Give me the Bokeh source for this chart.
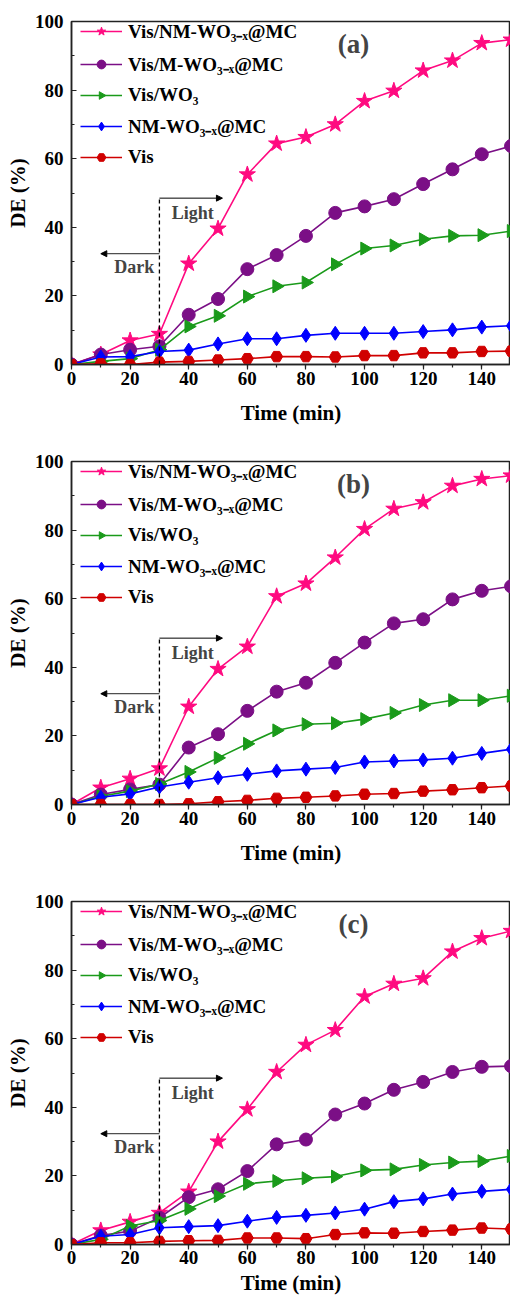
import math
from bokeh.plotting import figure
from bokeh.layouts import column
from bokeh.models import (Legend, LegendItem, Label, Arrow, NormalHead,
                          SingleIntervalTicker)
from bokeh.embed import file_html
from bokeh.resources import INLINE

# ---------------- data ----------------
time_min = [0, 10, 20, 30, 40, 50, 60, 70, 80, 90, 100, 110, 120, 130, 140, 150]

series_names = ["Vis/NM-WO\u2083\u208b\u2093@MC", "Vis/M-WO\u2083\u208b\u2093@MC",
                "Vis/WO\u2083", "NM-WO\u2083\u208b\u2093@MC", "Vis"]

a_vis_nm = [0, 2.9, 7.0, 8.9, 29.4, 39.6, 55.4, 64.4, 66.3, 70.0, 76.8, 79.8, 85.7, 88.6, 93.7, 94.7]
a_vis_m = [0, 2.9, 4.3, 5.3, 14.5, 19.1, 27.8, 31.9, 37.5, 44.2, 46.1, 48.2, 52.6, 56.9, 61.3, 63.7]
a_vis_wo3 = [0, 0.9, 1.7, 4.3, 11.1, 14.2, 19.8, 22.8, 23.9, 29.2, 33.8, 34.7, 36.5, 37.5, 37.7, 38.9]
a_nm = [0, 2.2, 2.3, 3.8, 4.2, 6.0, 7.5, 7.5, 8.5, 9.1, 9.1, 9.1, 9.6, 10.1, 10.9, 11.3]
a_vis = [0, 0.2, 0.0, 0.7, 0.9, 1.3, 1.7, 2.3, 2.3, 2.2, 2.6, 2.6, 3.4, 3.4, 3.8, 3.9]

b_vis_nm = [0, 4.9, 7.5, 10.5, 28.5, 39.5, 46.0, 60.7, 64.4, 72.0, 80.3, 86.2, 88.1, 92.9, 94.9, 95.9]
b_vis_m = [0, 2.9, 4.4, 5.8, 16.6, 20.5, 27.3, 32.9, 35.5, 41.3, 47.2, 52.8, 54.0, 59.8, 62.3, 63.6]
b_vis_wo3 = [0, 2.4, 3.9, 6.0, 9.5, 13.6, 17.7, 21.6, 23.4, 23.7, 24.9, 26.7, 29.0, 30.4, 30.4, 31.7]
b_nm = [0, 2.1, 3.1, 5.1, 6.5, 7.8, 8.8, 9.8, 10.3, 10.8, 12.4, 12.7, 13.0, 13.5, 14.9, 16.1]
b_vis = [0, 0.0, 0.0, 0.0, 0.2, 0.8, 1.2, 1.8, 2.1, 2.5, 3.0, 3.2, 3.9, 4.3, 4.9, 5.4]

c_vis_nm = [0, 4.1, 6.6, 9.2, 15.4, 30.0, 39.4, 50.3, 58.2, 62.5, 72.3, 76.0, 77.6, 85.4, 89.3, 91.4]
c_vis_m = [0, 2.6, 3.9, 7.8, 13.8, 16.1, 21.4, 29.2, 30.6, 37.9, 41.1, 45.1, 47.4, 50.3, 51.8, 52.0]
c_vis_wo3 = [0, 1.5, 5.4, 7.0, 10.4, 14.1, 17.7, 18.5, 19.3, 19.8, 21.6, 21.9, 23.2, 23.9, 24.3, 25.8]
c_nm = [0, 2.4, 2.9, 4.9, 5.2, 5.5, 6.8, 7.9, 8.5, 9.2, 10.3, 12.5, 13.3, 14.7, 15.5, 16.1]
c_vis = [0, 0.5, 0.5, 0.9, 1.1, 1.2, 1.9, 1.9, 1.7, 2.9, 3.4, 3.3, 3.8, 4.2, 4.8, 4.5]

panel_labels = ["(a)", "(b)", "(c)"]
panels = [
    [a_vis_nm, a_vis_m, a_vis_wo3, a_nm, a_vis],
    [b_vis_nm, b_vis_m, b_vis_wo3, b_nm, b_vis],
    [c_vis_nm, c_vis_m, c_vis_wo3, c_nm, c_vis],
]

# annotation values (data units)
light_on = 30
light_level = 48.5
light_arrow_end = 51.5
dark_level = 32.3
dark_arrow_end = 10

# ---------------- style ----------------
colors = ["#FF0A80", "#7B0F86", "#1A9A1A", "#0000FF", "#D00000"]
markers = ["star", "circle", "tri_right", "diamond", "hex"]
marker_sizes = [17, 13, 15, 14, 12]
FONT = "Liberation Serif"


def make_panel(values, label, height, border_bottom, tick_standoff, title_standoff):
    p = figure(width=510, height=height, x_range=(0, 149.8), y_range=(0, 100),
               output_backend="svg", toolbar_location=None,
               min_border_left=71, min_border_right=0, min_border_top=21,
               min_border_bottom=border_bottom)
    p.xgrid.visible = False
    p.ygrid.visible = False
    p.outline_line_color = "#222222"
    p.outline_line_width = 1.5
    p.background_fill_color = "white"
    p.border_fill_color = "white"

    items = []
    for name, ys, col, mk, ms in zip(series_names, values, colors, markers, marker_sizes):
        r1 = p.line(time_min, ys, line_color=col, line_width=1.6)
        if mk == "tri_right":
            r2 = p.ngon(x=time_min, y=ys, radius=ms / 2, radius_units="screen",
                        n=3, angle=-math.pi / 2, fill_color=col, line_color=col)
        else:
            r2 = p.scatter(time_min, ys, marker=mk, size=ms,
                           fill_color=col, line_color=col)
        items.append(LegendItem(label=name, renderers=[r1, r2]))

    legend = Legend(items=items, location=(9, 196), padding=0, margin=0,
                    spacing=7, glyph_width=42, glyph_height=22, label_height=22,
                    label_standoff=6, border_line_color=None,
                    background_fill_alpha=0,
                    label_text_font=FONT, label_text_font_style="bold",
                    label_text_font_size="19px", label_text_color="black")
    p.add_layout(legend)

    # dark / light annotation
    p.segment(x0=[light_on], y0=[0], x1=[light_on], y1=[light_level],
              line_color="black", line_width=1.3, line_dash="4 3")
    p.add_layout(Arrow(end=NormalHead(size=6, fill_color="black", line_color="black"),
                       x_start=light_on, y_start=light_level,
                       x_end=light_arrow_end, y_end=light_level,
                       line_color="black", line_width=1))
    p.add_layout(Arrow(end=NormalHead(size=6, fill_color="black", line_color="black"),
                       x_start=light_on, y_start=dark_level,
                       x_end=dark_arrow_end, y_end=dark_level,
                       line_color="#222222", line_width=1))
    p.add_layout(Label(x=41.4, y=44.3, text="Light", text_font=FONT,
                       text_font_style="bold", text_font_size="18px",
                       text_align="center", text_baseline="middle"))
    p.add_layout(Label(x=21.4, y=28.3, text="Dark", text_font=FONT,
                       text_font_style="bold", text_font_size="18px",
                       text_align="center", text_baseline="middle"))
    p.add_layout(Label(x=96.2, y=93.5, text=label, text_font=FONT,
                       text_font_style="bold", text_font_size="27px",
                       text_align="center", text_baseline="middle"))

    # axes
    p.xaxis.ticker = SingleIntervalTicker(interval=20, num_minor_ticks=2)
    p.yaxis.ticker = SingleIntervalTicker(interval=20, num_minor_ticks=2)
    p.xaxis.axis_label = "Time (min)"
    p.yaxis.axis_label = "DE (%)"
    for ax in (p.xaxis, p.yaxis):
        ax.axis_line_width = 1.5
        ax.axis_line_color = "#222222"
        ax.major_tick_line_color = "#222222"
        ax.minor_tick_line_color = "#222222"
        ax.major_tick_line_width = 1.2
        ax.minor_tick_line_width = 1.2
        ax.major_label_text_font = FONT
        ax.major_label_text_font_style = "bold"
        ax.major_label_text_font_size = "19px"
        ax.major_label_text_color = "black"
        ax.axis_label_text_font = FONT
        ax.axis_label_text_font_style = "bold"
        ax.axis_label_text_font_size = "21px"
        ax.axis_label_text_color = "black"
    p.xaxis.major_tick_in = 0
    p.xaxis.major_tick_out = 5
    p.xaxis.minor_tick_in = 0
    p.xaxis.minor_tick_out = 3
    p.xaxis.major_label_standoff = tick_standoff
    p.xaxis.axis_label_standoff = title_standoff
    p.yaxis.major_tick_in = 5
    p.yaxis.major_tick_out = 0
    p.yaxis.minor_tick_in = 3
    p.yaxis.minor_tick_out = 0
    p.yaxis.major_label_standoff = 8
    p.yaxis.axis_label_standoff = 2
    return p


figs = [
    make_panel(panels[0], panel_labels[0], 440, 76, 2, 13),
    make_panel(panels[1], panel_labels[1], 440, 76, 2, 13),
    make_panel(panels[2], panel_labels[2], 421, 57, 1, 4),
]
layout = column(*figs, spacing=0)

open("out.html", "w").write(file_html(layout, INLINE))
